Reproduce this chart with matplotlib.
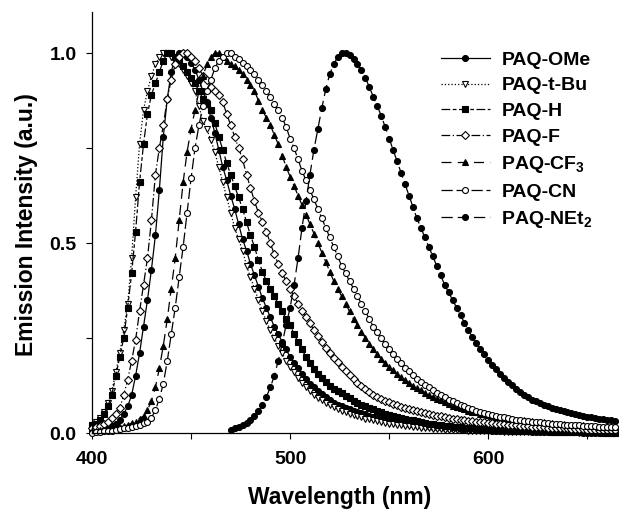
import matplotlib
matplotlib.use('Agg')
import matplotlib.pyplot as plt

plt.rcParams['font.family'] = 'Liberation Sans'
plt.rcParams['font.weight'] = 'bold'
plt.rcParams['mathtext.fontset'] = 'custom'
plt.rcParams['mathtext.rm'] = 'Liberation Sans:bold'
plt.rcParams['mathtext.bf'] = 'Liberation Sans:bold'
plt.rcParams['mathtext.default'] = 'bf'

# wavelength grid (nm), one point every 2 nm
wl = list(range(400, 666, 2))
wl_net2 = list(range(470, 666, 2))

paq_ome = [0.005, 0.006, 0.008, 0.01, 0.013, 0.018, 0.025, 0.035, 0.05, 0.07,
           0.10, 0.15, 0.21, 0.28, 0.35, 0.43, 0.52, 0.64, 0.78, 0.88,
           0.95, 0.99, 1.00, 1.00, 0.99, 0.975, 0.955, 0.93, 0.90, 0.87,
           0.83, 0.79, 0.745, 0.70, 0.665, 0.625, 0.59, 0.55, 0.51, 0.48,
           0.445, 0.415, 0.385, 0.355, 0.33, 0.305, 0.28, 0.26, 0.24, 0.22,
           0.20, 0.185, 0.17, 0.155, 0.142, 0.13, 0.12, 0.11, 0.102, 0.094,
           0.087, 0.08, 0.075, 0.07, 0.066, 0.062, 0.058, 0.055, 0.052, 0.049,
           0.046, 0.043, 0.04, 0.038, 0.036, 0.034, 0.032, 0.03, 0.028, 0.026,
           0.025, 0.023, 0.022, 0.021, 0.019, 0.018, 0.017, 0.016, 0.015, 0.014,
           0.013, 0.012, 0.012, 0.011, 0.010, 0.010, 0.009, 0.008, 0.008, 0.007,
           0.007, 0.006, 0.006, 0.006, 0.005, 0.005, 0.005, 0.004, 0.004, 0.004,
           0.004, 0.003, 0.003, 0.003, 0.003, 0.003, 0.002, 0.002, 0.002, 0.002,
           0.002, 0.002, 0.002, 0.002, 0.001, 0.001, 0.001, 0.001, 0.001, 0.001,
           0.001, 0.001, 0.001]

paq_tbu = [0.02, 0.03, 0.04, 0.055, 0.08, 0.11, 0.16, 0.21, 0.27, 0.34,
           0.46, 0.62, 0.76, 0.85, 0.90, 0.94, 0.97, 0.99, 1.00, 1.00,
           0.99, 0.98, 0.97, 0.955, 0.94, 0.92, 0.90, 0.86, 0.82, 0.80,
           0.77, 0.74, 0.70, 0.66, 0.62, 0.58, 0.54, 0.51, 0.48, 0.44,
           0.41, 0.38, 0.35, 0.32, 0.295, 0.27, 0.25, 0.23, 0.21, 0.19,
           0.175, 0.16, 0.145, 0.132, 0.12, 0.11, 0.10, 0.093, 0.086, 0.08,
           0.074, 0.069, 0.064, 0.059, 0.055, 0.051, 0.047, 0.044, 0.041, 0.038,
           0.036, 0.033, 0.031, 0.029, 0.027, 0.025, 0.023, 0.022, 0.020, 0.019,
           0.018, 0.016, 0.015, 0.014, 0.013, 0.012, 0.011, 0.010, 0.010, 0.009,
           0.009, 0.008, 0.008, 0.007, 0.007, 0.006, 0.006, 0.005, 0.005, 0.005,
           0.004, 0.004, 0.004, 0.004, 0.003, 0.003, 0.003, 0.003, 0.003, 0.003,
           0.002, 0.002, 0.002, 0.002, 0.002, 0.002, 0.002, 0.002, 0.002, 0.002,
           0.002, 0.002, 0.002, 0.001, 0.001, 0.001, 0.001, 0.001, 0.001, 0.001,
           0.001, 0.001, 0.001]

paq_h = [0.02, 0.025, 0.035, 0.05, 0.07, 0.10, 0.15, 0.20, 0.25, 0.33,
         0.42, 0.53, 0.66, 0.76, 0.84, 0.89, 0.92, 0.95, 0.98, 1.00,
         1.00, 0.99, 0.98, 0.965, 0.95, 0.935, 0.92, 0.90, 0.88, 0.865,
         0.85, 0.815, 0.78, 0.745, 0.71, 0.68, 0.65, 0.62, 0.59, 0.555,
         0.52, 0.49, 0.455, 0.425, 0.40, 0.38, 0.36, 0.34, 0.32, 0.30,
         0.285, 0.26, 0.24, 0.22, 0.20, 0.184, 0.168, 0.155, 0.145, 0.135,
         0.125, 0.117, 0.11, 0.104, 0.098, 0.092, 0.085, 0.08, 0.075, 0.07,
         0.066, 0.062, 0.058, 0.054, 0.051, 0.048, 0.045, 0.042, 0.04, 0.037,
         0.035, 0.033, 0.031, 0.029, 0.027, 0.025, 0.024, 0.022, 0.021, 0.019,
         0.018, 0.017, 0.016, 0.015, 0.014, 0.013, 0.012, 0.011, 0.011, 0.010,
         0.009, 0.009, 0.008, 0.008, 0.007, 0.007, 0.006, 0.006, 0.006, 0.005,
         0.005, 0.005, 0.004, 0.004, 0.004, 0.004, 0.003, 0.003, 0.003, 0.003,
         0.003, 0.003, 0.002, 0.002, 0.002, 0.002, 0.002, 0.002, 0.002, 0.001,
         0.001, 0.001, 0.001]

paq_f = [0.012, 0.015, 0.018, 0.023, 0.03, 0.04, 0.05, 0.065, 0.10, 0.14,
         0.19, 0.245, 0.32, 0.39, 0.46, 0.56, 0.68, 0.75, 0.81, 0.88,
         0.93, 0.97, 0.99, 1.00, 1.00, 0.99, 0.98, 0.96, 0.94, 0.93,
         0.91, 0.90, 0.89, 0.87, 0.84, 0.81, 0.78, 0.75, 0.72, 0.68,
         0.645, 0.61, 0.58, 0.555, 0.53, 0.50, 0.47, 0.445, 0.42, 0.40,
         0.38, 0.36, 0.34, 0.32, 0.305, 0.29, 0.27, 0.255, 0.24, 0.225,
         0.21, 0.198, 0.187, 0.175, 0.164, 0.153, 0.142, 0.132, 0.123, 0.115,
         0.108, 0.101, 0.095, 0.09, 0.085, 0.081, 0.077, 0.073, 0.069, 0.066,
         0.063, 0.06, 0.057, 0.054, 0.052, 0.05, 0.048, 0.046, 0.044, 0.042,
         0.04, 0.038, 0.036, 0.035, 0.033, 0.032, 0.031, 0.03, 0.029, 0.028,
         0.027, 0.026, 0.025, 0.024, 0.023, 0.022, 0.021, 0.02, 0.019, 0.018,
         0.018, 0.017, 0.016, 0.016, 0.015, 0.014, 0.014, 0.013, 0.013, 0.012,
         0.012, 0.011, 0.011, 0.01, 0.01, 0.009, 0.009, 0.009, 0.008, 0.008,
         0.008, 0.007, 0.007]

paq_cf3 = [0.005, 0.006, 0.007, 0.008, 0.01, 0.011, 0.013, 0.015, 0.018, 0.021,
           0.026, 0.03, 0.038, 0.045, 0.06, 0.085, 0.12, 0.17, 0.23, 0.30,
           0.38, 0.46, 0.56, 0.66, 0.74, 0.80, 0.85, 0.90, 0.94, 0.97,
           0.99, 1.00, 1.00, 0.99, 0.98, 0.97, 0.965, 0.955, 0.945, 0.93,
           0.915, 0.90, 0.875, 0.85, 0.83, 0.81, 0.785, 0.76, 0.73, 0.70,
           0.675, 0.65, 0.625, 0.60, 0.575, 0.55, 0.525, 0.50, 0.475, 0.45,
           0.425, 0.40, 0.38, 0.36, 0.34, 0.32, 0.30, 0.285, 0.267, 0.25,
           0.235, 0.22, 0.207, 0.195, 0.185, 0.175, 0.165, 0.155, 0.147, 0.14,
           0.132, 0.125, 0.118, 0.112, 0.106, 0.10, 0.095, 0.09, 0.086, 0.082,
           0.076, 0.072, 0.068, 0.065, 0.062, 0.059, 0.056, 0.054, 0.051, 0.049,
           0.047, 0.045, 0.043, 0.041, 0.04, 0.038, 0.037, 0.035, 0.034, 0.033,
           0.032, 0.031, 0.03, 0.029, 0.028, 0.027, 0.026, 0.025, 0.024, 0.023,
           0.022, 0.022, 0.021, 0.02, 0.02, 0.019, 0.018, 0.018, 0.017, 0.017,
           0.016, 0.016, 0.015]

paq_cn = [0.0, 0.002, 0.003, 0.004, 0.005, 0.006, 0.008, 0.01, 0.012, 0.014,
          0.016, 0.019, 0.022, 0.026, 0.03, 0.04, 0.06, 0.09, 0.13, 0.19,
          0.26, 0.33, 0.41, 0.49, 0.58, 0.67, 0.75, 0.81, 0.86, 0.90,
          0.93, 0.96, 0.98, 0.99, 1.00, 1.00, 0.99, 0.985, 0.975, 0.965,
          0.955, 0.945, 0.93, 0.915, 0.90, 0.885, 0.865, 0.85, 0.83, 0.805,
          0.775, 0.75, 0.72, 0.69, 0.665, 0.64, 0.615, 0.59, 0.565, 0.54,
          0.515, 0.49, 0.465, 0.44, 0.42, 0.40, 0.38, 0.36, 0.34, 0.32,
          0.30, 0.28, 0.265, 0.25, 0.235, 0.22, 0.207, 0.195, 0.183, 0.172,
          0.162, 0.152, 0.143, 0.135, 0.127, 0.12, 0.113, 0.106, 0.1, 0.094,
          0.088, 0.083, 0.078, 0.074, 0.07, 0.066, 0.062, 0.059, 0.056, 0.053,
          0.05, 0.048, 0.045, 0.043, 0.041, 0.039, 0.037, 0.035, 0.034, 0.032,
          0.031, 0.03, 0.029, 0.028, 0.027, 0.026, 0.025, 0.024, 0.023, 0.022,
          0.021, 0.021, 0.02, 0.02, 0.019, 0.019, 0.018, 0.018, 0.017, 0.017,
          0.016, 0.016, 0.015]

paq_net2 = [0.008, 0.012, 0.016, 0.021, 0.027,
            0.035, 0.045, 0.057, 0.075, 0.095, 0.12, 0.15, 0.19, 0.235, 0.285,
            0.33, 0.39, 0.46, 0.54, 0.61, 0.68, 0.745, 0.80, 0.855, 0.905,
            0.945, 0.97, 0.99, 1.0, 1.0, 0.995, 0.985, 0.97, 0.955, 0.935,
            0.91, 0.885, 0.86, 0.835, 0.805, 0.775, 0.745, 0.715, 0.685, 0.655,
            0.625, 0.595, 0.565, 0.54, 0.515, 0.49, 0.465, 0.44, 0.415, 0.39,
            0.37, 0.35, 0.33, 0.31, 0.29, 0.27, 0.253, 0.237, 0.222, 0.207,
            0.193, 0.18, 0.168, 0.156, 0.145, 0.135, 0.126, 0.117, 0.109, 0.101,
            0.094, 0.088, 0.083, 0.078, 0.074, 0.07, 0.066, 0.063, 0.06, 0.057,
            0.055, 0.052, 0.05, 0.047, 0.045, 0.043, 0.041, 0.039, 0.037, 0.036,
            0.034, 0.033, 0.031]

labels = ['PAQ-OMe', 'PAQ-t-Bu', 'PAQ-H', 'PAQ-F', 'PAQ-CF$_3$', 'PAQ-CN', 'PAQ-NEt$_2$']

fig = plt.figure(figsize=(6.19, 5.12), dpi=100)
ax = fig.add_axes([92 / 619, 79 / 512, 527 / 619, 421 / 512])

ms = 4.3
lw = 0.9
common = dict(color='black', lw=lw, ms=ms, mew=0.8, clip_on=False)

ax.plot(wl, paq_ome, '-', marker='o', mfc='black', label=labels[0], **common)
ax.plot(wl, paq_tbu, ':', marker='v', mfc='white', label=labels[1], **common)
ax.plot(wl, paq_h, marker='s', mfc='black', dashes=(7, 2, 3, 2), label=labels[2], **common)
ax.plot(wl, paq_f, marker='D', mfc='white', dashes=(7, 2, 1, 2), label=labels[3],
        **{**common, 'ms': 3.8})
ax.plot(wl, paq_cf3, marker='^', mfc='black', dashes=(8, 5), label=labels[4], **common)
ax.plot(wl, paq_cn, marker='o', mfc='white', dashes=(9, 3), label=labels[5], **common)
ax.plot(wl_net2, paq_net2, marker='o', mfc='black', dashes=(9, 4), label=labels[6], **common)

ax.set_xlim(400, 666)
ax.set_ylim(0, 1.108)
ax.set_xticks([400, 500, 600])
ax.set_xticks([450, 550, 650], minor=True)
ax.set_yticks([0.0, 0.5, 1.0])
ax.set_yticklabels(['0.0', '0.5', '1.0'])
ax.set_yticks([0.25, 0.75], minor=True)

ax.spines['top'].set_visible(False)
ax.spines['right'].set_visible(False)
for s in ['left', 'bottom']:
    ax.spines[s].set_linewidth(0.9)

ax.tick_params(which='both', direction='out', length=4, width=0.8)
ax.tick_params(axis='x', labelsize=14, pad=9)
ax.tick_params(axis='y', labelsize=14, pad=7)

ax.set_xlabel('Wavelength (nm)', fontsize=16.5, fontweight='bold')
ax.set_ylabel('Emission Intensity (a.u.)', fontsize=16.5, fontweight='bold')
ax.xaxis.set_label_coords(0.47, -0.125)
ax.yaxis.set_label_coords(-0.103, 0.494)

ax.legend(loc='upper left', bbox_to_anchor=(441 / 619, 1 - 51 / 512),
          bbox_transform=fig.transFigure, frameon=False, fontsize=14,
          borderpad=0, borderaxespad=0, handlelength=2.5, handletextpad=0.6,
          labelspacing=0.42)

plt.savefig('out.png', dpi=100)
